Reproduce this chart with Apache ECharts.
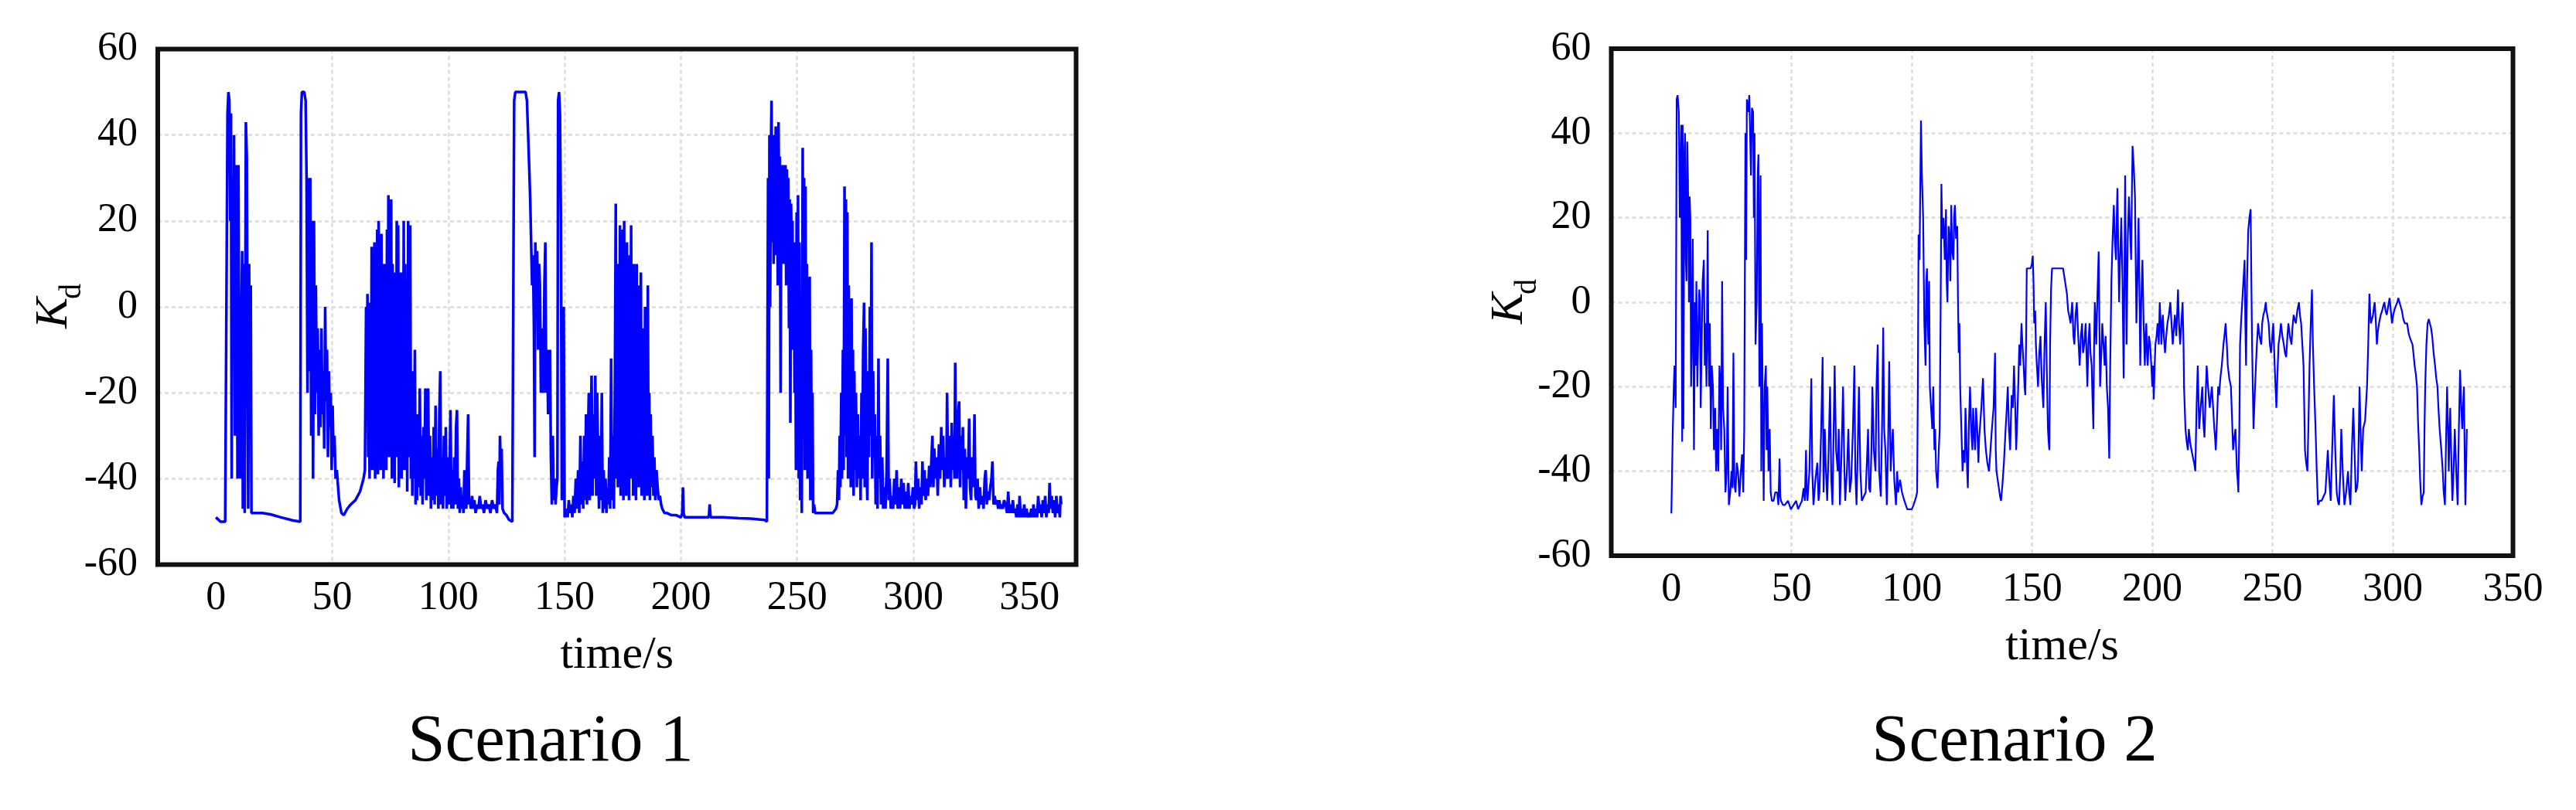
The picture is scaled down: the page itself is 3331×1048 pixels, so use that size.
<!DOCTYPE html>
<html>
<head>
<meta charset="utf-8">
<script src="https://cdn.jsdelivr.net/npm/echarts@6/dist/echarts.min.js"></script>
<style>
html,body{margin:0;padding:0;background:#fff;}
#main{width:3331px;height:1048px;}
</style>
</head>
<body>
<div id="main"></div>
<script>
// ---- tick labels ----
const xTicks1 = [0, 50, 100, 150, 200, 250, 300, 350];
const xTicks2 = [0, 50, 100, 150, 200, 250, 300, 350];
const yMin = -60, yMax = 60, yStep = 20;
const panelTitles = ['Scenario 1', 'Scenario 2'];
const xName = 'time/s';

// ---- Scenario 1: [time s, Kd] ----
const scenario1 = [
[0,-49],[1,-49.5],[2,-50],[4,-50],[4.6,-50],[5,45],[5.4,50],[5.8,48],[6.2,20],[6.5,45],[6.8,-40],[7.1,30],[7.5,-10],[7.8,40],[8.2,-30],[8.6,-20],[9,33],[9.3,-40],[9.7,33],[10.1,-30],[10.5,-40],[10.9,-5],[11.3,13],[11.6,-47],[12,10],[12.4,-48],[12.9,43],[13.3,35],[13.6,-10],[13.9,-47],[14.3,10],[14.6,-30],[15,5],[15.3,-48],[15.7,-48],[16.5,-48],[20,-48],[23.5,-48.3],[28,-49],[33,-49.7],[36.3,-50],
[36.6,45],[37,50],[38,50],[38.6,48],[39,30],[39.4,-20],[39.8,30],[40.2,-15],[40.6,30],[41,-30],[41.4,20],[41.8,-40],[42.2,20],[42.6,-25],[43,5],[43.4,-20],[43.8,-5],[44.2,-30],[44.6,-10],[45,-28],[45.4,-5],[45.8,-25],[46.2,-15],[46.6,-33],[47,0],[47.4,-22],[47.8,-10],[48.2,-35],[48.6,-15],[49,-28],[49.4,-20],[49.8,-38],[50.2,-23],[50.6,-35],[51,-30],[51.5,-40],[52,-38],[53,-45],[54,-48],[55,-48.5],[56.5,-47],[58,-46],[60,-45],[62,-43],[63.5,-40],[64.1,-38],
[64.4,-38],[64.6,0],[64.9,-20],[65.2,3],[65.5,-35],[65.8,-5],[66.1,-40],[66.4,1],[66.7,-30],[67,14],[67.3,-38],[67.6,10],[67.9,-25],[68.2,15],[68.5,-40],[68.8,5],[69.1,-30],[69.4,18],[69.7,-39],[70,20],[70.3,-20],[70.6,12],[70.9,-38],[71.2,17],[71.5,-30],[71.8,5],[72.1,-40],[72.4,10],[72.7,-22],[73,-5],[73.3,-38],[73.6,18],[73.9,-30],[74.2,26],[74.5,-35],[74.8,24],[75.1,-15],[75.4,25],[75.7,-40],[76,10],[76.3,-30],[76.6,-5],[76.9,-41],[77.2,8],[77.5,-35],[77.8,20],[78.1,-25],[78.4,19],[78.7,-42],[79,0],[79.3,-30],[79.6,8],[79.9,-40],[80.2,-10],[80.5,-35],[80.8,20],[81.1,-38],[81.4,10],[81.7,-20],[82,-10],[82.3,-43],[82.7,20],[83,-35],[83.3,-10],[83.6,19],[83.9,-40],[84.2,-20],[84.5,-44],[84.8,-15],[85.1,-40],[85.6,-10],[85.9,-46],[86.2,-30],
[86.5,-45],[86.9,-25],[87.3,-42],[87.7,-19],[88.1,-44],[88.5,-30],[88.9,-46],[89.3,-28],[89.7,-40],[90.1,-19],[90.5,-45],[90.9,-25],[91.3,-19],[91.7,-44],[92.1,-30],[92.5,-47],[92.9,-35],[93.3,-45],[93.7,-28],[94.1,-46],[94.5,-23],[94.9,-44],[95.3,-33],[95.7,-47],[96.1,-25],[96.5,-15],[96.9,-46],[97.3,-35],[97.7,-47],[98.1,-30],[98.5,-44],[98.9,-28],[99.3,-47],[99.7,-35],[100.1,-46],[100.5,-40],[100.9,-24],[101.3,-47],[101.7,-38],[102.1,-47],[102.5,-35],[102.9,-46],[103.3,-28],[103.7,-24],[104.1,-47],[104.5,-40],[104.9,-48],[105.3,-42],[105.7,-47],[106.1,-44],[106.5,-48],[106.9,-38],[107.3,-45],[107.7,-47],[108.1,-35],[108.5,-25],[108.9,-46],[109.3,-45],[109.7,-47],[110.2,-44],[110.7,-47],[111.2,-45],[111.7,-48],[112.3,-46],[112.9,-47],[113.5,-44],[114.1,-47],[114.7,-46],[115.3,-48],[116,-45],[116.7,-47],[117.4,-46],[118.1,-48],[118.8,-45],[119.5,-47],[120.2,-46],[120.9,-48],[121.3,-38],[121.6,-36],[121.9,-46],[122.2,-30],[122.6,-40],[122.9,-33],[123.3,-47],[124,-48],[125,-48.5],[126,-49.5],[127.5,-50],[128,-50],
[128.3,48],[128.8,50],[131,50],[133.2,50],[133.8,48],[134.3,40],[134.8,32],[135.2,25],[135.6,15],[136,5],[136.4,12],[136.8,-5],[137.1,-35],[137.4,15],[137.8,5],[138.2,13],[138.6,-10],[139,10],[139.4,5],[139.8,-20],[140.2,-5],[140.6,-15],[140.9,-20],[141.3,5],[141.7,15],[142.1,-20],[142.5,-10],[142.9,-25],[143.3,-15],[143.7,-10],[144.1,-35],[144.5,-46],[144.9,-30],[145.3,-45],[145.7,-40],[146.1,-46],[146.5,-42],[146.9,-40],[147.2,48],[147.6,50],[148,45],[148.4,20],[148.8,-45],[149.2,-5],[149.6,0],[150,-49],
[150.3,-49],[150.8,-47],[151.3,-49],[151.8,-45],[152.3,-48],[152.8,-46],[153.3,-49],[153.8,-44],[154.3,-48],[154.8,-40],[155.3,-47],[155.8,-38],[156.3,-48],[156.8,-30],[157.2,-46],[157.6,-36],[158,-47],[158.4,-30],[158.8,-45],[159.2,-25],[159.6,-46],[160,-32],[160.4,-20],[160.8,-45],[161.2,-30],[161.6,-16],[162,-44],[162.4,-25],[162.8,-40],[163.2,-16],[163.6,-44],[164,-20],[164.4,-35],[164.8,-47],[165.2,-30],[165.6,-45],[166,-20],[166.4,-48],[166.8,-38],[167.2,-47],[167.6,-40],[168,-48],[168.4,-42],[168.8,-46],[169.2,-35],[169.6,-47],[170,-12],[170.4,-45],[170.8,-30],[171.2,-47],[171.6,-20],[172,24],[172.3,-40],[172.6,0],[172.9,-42],[173.2,10],[173.5,-38],[173.8,19],[174.1,-44],[174.4,5],[174.7,-35],[175,18],[175.3,-45],[175.6,20],[175.9,-30],[176.2,8],[176.5,-44],[176.8,15],[177.1,-38],[177.4,-5],[177.7,-45],[178,12],[178.3,-40],[178.6,19],[178.9,-30],[179.2,5],[179.5,-44],[179.8,10],[180.1,-35],[180.4,-2],[180.7,-45],[181,10],[181.3,-38],[181.6,0],[181.9,-42],[182.2,5],[182.5,-30],[182.8,8],[183.1,-44],[183.4,-5],[183.7,-38],[184,-10],[184.3,-45],[184.6,0],[184.9,-35],[185.2,-15],[185.5,-44],[185.8,5],[186.1,-40],[186.4,-20],[186.7,-45],[187,-25],[187.4,-42],[187.8,-30],[188.2,-44],[188.6,-35],[189,-45],[189.5,-38],[190,-42],[190.5,-45],[191,-44],[191.5,-46],[192,-47],[193,-48],[194,-48],[196,-48.5],[198,-48.5],[200,-49],[200.6,-48],[200.9,-42],[201.2,-48],[201.6,-49],[204,-49],[208,-49],[212,-49],[212.4,-46],[212.8,-49],[218,-49],[225,-49.2],[230,-49.3],[236,-49.6],[237,-50],
[237.3,-50],[237.5,30],[237.8,-40],[238.1,40],[238.4,0],[238.7,35],[239,48],[239.3,15],[239.6,40],[239.9,10],[240.2,35],[240.5,20],[240.8,42],[241.1,12],[241.4,30],[241.7,5],[242,43],[242.3,20],[242.6,35],[242.9,-20],[243.2,30],[243.5,15],[243.8,33],[244.1,10],[244.4,30],[244.7,20],[245,33],[245.3,5],[245.6,32],[245.9,15],[246.2,30],[246.5,-5],[246.8,25],[247.1,-27],[247.4,24],[247.7,10],[248,20],[248.3,-10],[248.6,15],[248.9,-20],[249.2,10],[249.5,-38],[249.8,22],[250.1,-10],[250.4,26],[250.7,-40],[251,15],[251.3,-45],[251.6,-20],[252,-48],[252.4,37],[252.7,-10],[253,30],[253.3,-38],[253.6,28],[253.9,-20],[254.2,10],[254.5,-40],[254.8,5],[255.1,-35],[255.4,7],[255.7,-45],[256,-10],[256.3,-40],[256.6,-20],[256.9,-48],[257.3,-46],[257.7,-48],[258.2,-48],[262,-48],[265.3,-48],[266.7,-47],
[267.2,-46],[267.6,-38],[268,-45],[268.3,-30],[268.6,-42],[269,-20],[269.3,-40],[269.7,-10],[270,-38],[270.4,28],[270.7,-30],[271,25],[271.3,-35],[271.6,22],[271.9,-40],[272.2,5],[272.5,-30],[272.8,-5],[273.1,-42],[273.4,2],[273.7,-35],[274,-10],[274.3,-44],[274.6,-15],[274.9,-38],[275.3,-20],[275.7,-42],[276.1,-25],[276.5,-40],[276.9,-30],[277.3,-45],[277.7,-20],[278,-40],[278.4,-10],[278.8,1],[279.1,-42],[279.4,-5],[279.8,-35],[280.2,-45],[280.6,-15],[280.9,-35],[281.3,0],[281.6,-30],[282,15],[282.3,-40],[282.7,-15],[283,-35],[283.4,-25],[283.8,-46],[284.2,-30],[284.6,-47],[285,-12],[285.3,-40],[285.7,-30],[286.1,-46],[286.6,-35],[287,-47],[287.5,-42],[288,-47],[288.5,-38],[289,-12],[289.4,-45],[289.8,-40],[290.3,-47],[290.8,-44],[291.3,-47],[291.8,-40],[292.3,-46],[292.8,-38],[293.3,-47],[293.8,-42],[294.3,-47],[294.8,-40],[295.3,-46],[295.8,-41],[296.3,-47],[296.8,-43],[297.3,-47],[297.8,-41],[298.3,-47],[298.8,-44],[299.3,-46],[299.8,-42],[300.3,-47],
[300.7,-46],[301.1,-36],[301.5,-45],[302,-40],[302.5,-47],[303,-42],[303.5,-46],[303.9,-36],[304.3,-44],[304.8,-38],[305.3,-45],[305.8,-40],[306.3,-44],[306.8,-37],[307.3,-42],[307.8,-35],[308.2,-30],[308.6,-42],[309,-33],[309.5,-40],[310,-35],[310.5,-44],[311,-32],[311.5,-40],[312,-28],[312.4,-38],[312.8,-30],[313.3,-42],[313.8,-35],[314.2,-40],[314.5,-20],[314.9,-38],[315.3,-40],[315.7,-30],[316.1,-42],[316.5,-27],[316.9,-38],[317.3,-30],[317.7,-40],[318,-13],[318.4,-38],[318.8,-40],[319.2,-25],[319.7,-22],[320.1,-42],[320.5,-30],[320.9,-38],[321.3,-28],[321.7,-45],[322.1,-33],[322.6,-47],[323,-35],[323.5,-40],[324,-26],[324.4,-42],[324.8,-45],[325.3,-35],[325.8,-42],[326.3,-25],[326.7,-44],[327.1,-45],[327.6,-40],[328.1,-47],[328.6,-42],[329.1,-46],[329.7,-44],[330.2,-47],[330.7,-40],[331.1,-38],[331.6,-46],[332.1,-43],[332.6,-45],[333.1,-42],[333.6,-40],[334,-36],[334.5,-46],[335,-44],[335.4,-46],[336,-45],[336.5,-47],[337,-45],[337.5,-47],[338,-46],[338.5,-47],[339,-45],[339.7,-46],[340.3,-48],[340.8,-43],[341.3,-48],[341.8,-46],[342.3,-48],[342.8,-45],[343.3,-48],[343.8,-47],[344.3,-49],[344.8,-46],[345.3,-49],[345.7,-44],[346.2,-49],[346.7,-47],[347.2,-49],[347.7,-46],[348.2,-49],[348.7,-47],[349.2,-49],[349.7,-48],[350.2,-49],[350.7,-47],[351.2,-49],[351.7,-46],[352.2,-49],[352.7,-47],[353.2,-49],[353.7,-44],[354.2,-48],[354.7,-46],[355.2,-49],[355.7,-45],[356.2,-48],[356.7,-44],[357.2,-49],[357.7,-46],[358.2,-48],[358.6,-41],[359,-47],[359.5,-44],[360,-48],[360.5,-45],[361,-49],[361.5,-44],[362,-48],[362.5,-46],[363,-49],[363.3,-44],[363.6,-46]
];

// ---- Scenario 2: [time s, Kd] ----
const scenario2 = [
[0,-50],[0.6,-30],[1.0,-20],[1.3,-15],[1.8,-25],[2.2,48],[2.6,49],[3.1,45],[3.5,20],[4.1,42],[4.5,-33],[4.7,42],[5.0,-30],[5.4,35],[5.7,40],[6.0,10],[6.3,5],[6.6,38],[6.9,29],[7.3,0],[7.6,25],[7.9,20],[8.2,-20],[8.5,-10],[8.9,15],[9.4,-35],[9.8,0],[10.1,-15],[10.4,5],[10.8,-20],[11.3,-5],[11.6,3],[11.9,0],[12.2,-25],[12.6,-10],[13.0,5],[13.5,10],[13.9,-15],[14.2,-5],[14.6,-20],[15.1,17],[15.4,-10],[15.7,-20],[16.0,-5],[16.4,-30],[16.8,-15],[17.3,-20],[17.7,-35],[18.2,-25],[18.6,-40],[19.0,-30],[19.5,-40],[20.0,-15],[20.4,-20],[20.7,-35],[21.1,5],[21.5,-25],[22.0,-30],[22.5,-45],[23.0,-40],[23.4,-20],[23.9,-48],[24.5,-45],[25.0,-40],[25.4,-44],[25.8,-12],[26.2,-43],[26.7,-45],[27.2,-38],[27.7,-40],[28.3,-46],[28.9,-40],[29.4,-36],[29.9,-45],[30.3,-30],[30.8,40],[31.1,10],[31.4,48],[32.0,45],[32.4,49],[32.7,49],[33.1,30],[33.5,46],[34.0,45],[34.3,20],[34.6,40],[35.0,-10],[35.5,0],[35.9,30],[36.2,35],[36.6,-20],[37.1,30],[37.4,-40],[37.7,-5],[38.1,-30],[38.4,-47],[38.8,-20],[39.3,-15],[39.6,-35],[39.9,-20],[40.4,-40],[40.9,-30],[41.3,-45],[41.8,-47],[42.5,-47],[43.2,-45],[44.0,-45],[44.5,-48],[45.0,-37],[45.3,-46],[45.6,-47],[46.4,-48],[47.2,-48],[48.5,-47],[49.7,-49],[50.8,-48],[51.9,-47],[52.7,-49],[53.5,-48],[54.3,-47],[55.0,-44],[55.5,-47],[56.0,-35],[56.3,-45],[56.6,-47],[57.4,-40],[58.2,-18],[58.6,-40],[59.1,-48],[59.9,-42],[60.7,-38],[61.2,-47],[61.6,-45],[62.3,-30],[62.9,-13],[63.3,-45],[63.8,-30],[64.3,-40],[64.8,-47],[65.4,-35],[66.0,-20],[66.5,-42],[67.0,-48],[67.5,-30],[67.9,-15],[68.5,-35],[69.2,-40],[69.6,-30],[70.1,-48],[70.8,-35],[71.4,-20],[71.9,-38],[72.3,-47],[73.0,-40],[73.6,-30],[74.2,-45],[74.8,-42],[75.5,-30],[76.1,-15],[76.5,-40],[77.0,-48],[77.5,-35],[78.0,-20],[78.6,-40],[79.2,-47],[80.0,-46],[80.8,-45],[81.3,-38],[81.8,-30],[82.2,-44],[82.7,-45],[83.2,-35],[83.6,-20],[84.2,-35],[84.9,-40],[85.3,-20],[85.8,-10],[86.4,-40],[87.1,-46],[87.6,-30],[88.1,-6],[88.5,-30],[89.0,-35],[89.6,-48],[90.1,-35],[90.6,-14],[91.2,-40],[91.6,-35],[92.1,-30],[92.7,-42],[93.4,-48],[93.9,-40],[94.3,-45],[95.1,-42],[95.9,-45],[96.4,-46],[96.9,-47],[97.5,-48],[98.1,-49],[99.0,-49],[100.0,-49],[100.7,-48],[101.3,-47],[101.8,-46],[102.2,-45],[102.5,-20],[102.8,16],[103.2,10],[103.8,43],[104.2,30],[104.7,20],[105.2,-5],[105.7,-15],[106.0,5],[106.3,8],[106.6,-5],[106.9,-10],[107.2,5],[107.5,-20],[108.0,-25],[108.5,-30],[108.9,-20],[109.4,-35],[109.7,-30],[110.1,-40],[110.7,-44],[111.2,-35],[111.6,-30],[112.0,0],[112.3,28],[112.7,15],[113.2,20],[113.7,10],[114.2,22],[114.5,5],[114.8,0],[115.3,18],[115.7,15],[116.0,5],[116.4,23],[116.8,12],[117.3,10],[117.6,20],[117.9,23],[118.4,15],[118.9,18],[119.2,0],[119.5,-12],[119.8,-5],[120.1,-20],[120.6,-30],[121.1,-40],[121.5,-35],[122.0,-38],[122.3,-25],[122.6,-30],[123.0,-40],[123.3,-44],[123.7,-30],[124.2,-20],[124.7,-30],[125.2,-35],[125.5,-25],[125.8,-30],[126.3,-35],[126.7,-25],[127.2,-30],[127.7,-38],[128.0,-32],[128.3,-30],[128.9,-25],[129.6,-18],[130.2,-30],[130.8,-35],[131.4,-38],[132.1,-40],[132.7,-35],[133.3,-30],[134.0,-25],[134.6,-12],[134.9,-35],[135.2,-40],[135.7,-42],[136.2,-44],[136.7,-46],[137.1,-47],[137.4,-45],[137.7,-43],[138.3,-38],[139.0,-30],[139.5,-25],[139.9,-20],[140.4,-30],[140.9,-35],[141.2,-28],[141.5,-22],[142.0,-25],[142.5,-15],[143.0,-25],[143.4,-35],[144.0,-25],[144.7,-10],[145.1,-15],[145.6,-5],[146.0,-10],[146.5,-15],[146.9,-20],[147.2,-22],[147.5,-10],[147.8,8],[148.2,8],[148.7,8],[149.0,8],[149.4,8],[149.9,9],[150.3,11],[150.6,5],[150.9,-5],[151.3,-2],[151.6,-10],[152.0,-15],[152.5,-20],[153.0,-12],[153.5,-8],[154.0,-18],[154.7,-25],[155.2,-10],[155.7,0],[156.1,-15],[156.6,-30],[156.9,-33],[157.2,-35],[157.5,-10],[157.9,3],[158.3,8],[158.8,8],[160.4,8],[162.0,8],[162.9,8],[163.7,5],[164.5,2],[165.0,-2],[165.4,-3],[166.0,-5],[166.7,0],[167.2,-8],[167.6,-10],[168.1,-3],[168.6,0],[169.2,-8],[169.8,-15],[170.3,-8],[170.8,-5],[171.2,-12],[171.7,-10],[172.3,-5],[173.0,-20],[173.4,-10],[173.9,-5],[174.3,-12],[174.8,-15],[175.1,-22],[175.5,-30],[175.8,-10],[176.1,0],[176.4,-5],[176.7,-10],[177.2,2],[177.7,12],[178.0,-5],[178.3,-20],[178.8,-12],[179.2,-5],[179.7,-10],[180.2,-15],[180.6,-8],[181.1,-20],[181.6,-25],[182.1,-37],[182.5,-15],[183.0,5],[183.5,15],[184.0,23],[184.4,15],[184.9,10],[185.2,20],[185.5,27],[185.8,15],[186.2,0],[186.6,10],[187.1,20],[187.6,5],[188.1,-18],[188.4,5],[188.7,30],[189.0,10],[189.3,-10],[189.8,15],[190.3,25],[190.7,18],[191.2,10],[191.5,25],[191.8,37],[192.3,32],[192.8,25],[193.1,10],[193.4,-5],[193.8,5],[194.3,20],[194.6,5],[195.0,-15],[195.4,0],[195.9,10],[196.4,-5],[196.9,-15],[197.2,-8],[197.5,-5],[197.8,-12],[198.1,-15],[198.6,-8],[199.1,-10],[199.6,-15],[200.0,-20],[200.3,-15],[200.6,-23],[201.0,-15],[201.3,-10],[201.8,-8],[202.2,-5],[202.7,-10],[203.1,0],[203.5,-5],[203.8,-10],[204.1,-5],[204.4,-3],[204.8,-8],[205.3,-12],[205.8,-8],[206.3,-5],[206.9,-3],[207.5,0],[208.0,-5],[208.5,-10],[209.0,-6],[209.4,-3],[210.0,-8],[210.7,3],[211.1,-5],[211.6,-10],[212.1,-5],[212.6,0],[213.0,-10],[213.2,-20],[213.5,-25],[213.8,-30],[214.3,-33],[214.8,-35],[215.2,-30],[215.7,-33],[216.3,-35],[217.0,-37],[217.4,-38],[217.9,-40],[218.4,-25],[218.9,-15],[219.2,-22],[219.5,-30],[220.1,-25],[220.8,-20],[221.2,-28],[221.7,-32],[222.2,-22],[222.6,-15],[223.2,-20],[223.9,-25],[224.4,-22],[224.8,-20],[225.3,-25],[225.8,-30],[226.1,-32],[226.4,-35],[226.9,-28],[227.4,-20],[227.8,-22],[228.3,-18],[228.9,-15],[229.6,-10],[230.0,-8],[230.5,-5],[231.0,-10],[231.4,-15],[232.0,-18],[232.7,-20],[233.2,-28],[233.6,-35],[234.1,-32],[234.6,-30],[234.9,-35],[235.2,-40],[235.5,-42],[235.8,-45],[236.2,-30],[236.5,-10],[236.9,-5],[237.4,0],[237.9,5],[238.4,10],[238.7,-5],[239.0,-15],[239.4,5],[239.9,17],[240.4,20],[240.9,22],[241.2,5],[241.5,-10],[241.8,-20],[242.1,-30],[242.6,-22],[243.1,-15],[243.5,-10],[244.0,-5],[244.6,-8],[245.3,-10],[245.7,-5],[246.2,-3],[246.7,-2],[247.2,0],[247.5,-2],[247.8,-3],[248.1,-4],[248.4,-5],[248.9,-10],[249.4,-12],[249.9,-8],[250.3,-5],[250.9,-15],[251.6,-25],[252.0,-18],[252.5,-10],[253.0,-8],[253.5,-5],[254.1,-8],[254.7,-10],[255.2,-12],[255.7,-13],[256.2,-8],[256.6,-5],[257.2,-8],[257.9,-10],[258.3,-6],[258.8,-3],[259.2,-4],[259.7,-5],[260.3,-2],[261.0,0],[261.4,-3],[261.9,-5],[262.4,-10],[262.9,-15],[263.2,-25],[263.5,-35],[264.0,-38],[264.5,-40],[264.9,-30],[265.4,-15],[265.9,-5],[266.4,3],[266.8,-10],[267.3,-20],[267.6,-25],[267.9,-30],[268.4,-40],[268.9,-48],[269.6,-47],[270.4,-47],[271.2,-46],[272.0,-45],[272.5,-40],[273.0,-35],[273.6,-42],[274.2,-47],[274.8,-35],[275.5,-22],[276.1,-35],[276.7,-45],[277.2,-47],[277.7,-48],[278.2,-40],[278.6,-30],[279.2,-40],[279.9,-48],[280.6,-45],[281.4,-40],[281.9,-45],[282.4,-48],[283.0,-35],[283.6,-25],[284.1,-35],[284.6,-45],[285.1,-44],[285.5,-42],[285.9,-30],[286.2,-20],[286.6,-30],[287.1,-40],[287.4,-35],[287.7,-30],[288.5,-28],[289.3,-20],[289.8,-10],[290.3,2],[290.6,-2],[290.9,-5],[291.4,-4],[291.8,-3],[292.2,-1],[292.5,0],[293.0,-5],[293.4,-10],[293.8,-7],[294.3,-5],[295.0,-3],[295.6,-2],[296.0,-1],[296.5,0],[297.0,-2],[297.5,-3],[298.1,-1],[298.7,1],[299.2,-2],[299.7,-5],[300.2,-3],[300.6,-2],[301.2,-1],[301.9,0],[302.3,1],[302.8,0],[303.3,-1],[303.8,-2],[304.4,-4],[305.0,-5],[305.5,-5],[306.0,-5],[306.5,-7],[306.9,-8],[307.5,-9],[308.2,-10],[308.6,-12],[309.1,-15],[309.6,-17],[310.1,-20],[310.5,-28],[311.0,-35],[311.4,-42],[311.9,-48],[312.4,-46],[312.9,-45],[313.2,-30],[313.5,-20],[314.0,-10],[314.5,-5],[315.0,-4],[315.4,-5],[315.9,-6],[316.4,-8],[317.0,-12],[317.6,-15],[318.1,-18],[318.6,-20],[319.0,-25],[319.5,-30],[320.2,-35],[320.8,-40],[321.2,-45],[321.7,-48],[322.1,-35],[322.6,-20],[323.0,-30],[323.3,-40],[323.6,-32],[323.9,-25],[324.4,-38],[324.8,-47],[325.3,-40],[325.8,-30],[326.4,-40],[327.0,-48],[327.5,-30],[328.0,-16],[328.5,-25],[328.9,-30],[329.3,-24],[329.6,-20],[329.9,-35],[330.2,-48],[330.5,-40],[330.8,-30]
];

const FONT = '"Liberation Serif", "Times New Roman", Times, serif';
const gridLine = { show: true, showMinLine: false, showMaxLine: false,
  lineStyle: { color: '#dcdcdc', width: 2.5, type: [5, 4] } };

// plot frames (pixel boxes of the two panels)
const frames = [
  { left: 204, top: 63.5, width: 1187.5, height: 667 },
  { left: 2083.5, top: 63, width: 1166, height: 656 }
];

function xAxisCfg(gi, min, max, ticks) {
  return {
    gridIndex: gi, type: 'value', min: min, max: max,
    axisLine: { show: false },
    axisTick: { show: false, customValues: ticks },
    axisLabel: { customValues: ticks, fontFamily: FONT, fontSize: 52, color: '#000', margin: 18 },
    splitLine: gridLine,
    name: xName, nameLocation: 'middle', nameGap: 88,
    nameTextStyle: { fontFamily: FONT, fontSize: 60, color: '#000' }
  };
}
function yAxisCfg(gi) {
  return {
    gridIndex: gi, type: 'value', min: yMin, max: yMax, interval: yStep,
    axisLine: { show: false }, axisTick: { show: false },
    axisLabel: { fontFamily: FONT, fontSize: 52, color: '#000', margin: 26 },
    splitLine: gridLine
  };
}
function kdLabel(xK, yK, xd, yd) {
  return [
    { type: 'text', x: xK, y: yK, rotation: Math.PI / 2,
      style: { text: 'K', font: 'italic 60px ' + FONT, fill: '#000', textAlign: 'center', textVerticalAlign: 'middle' } },
    { type: 'text', x: xd, y: yd, rotation: Math.PI / 2,
      style: { text: 'd', font: '40px ' + FONT, fill: '#000', textAlign: 'center', textVerticalAlign: 'middle' } }
  ];
}
function frameRect(f) {
  return { type: 'rect', z: 100, silent: true,
    shape: { x: f.left, y: f.top, width: f.width, height: f.height },
    style: { fill: null, stroke: '#111111', lineWidth: 6 } };
}

const chart = echarts.init(document.getElementById('main'), null, { renderer: 'canvas' });
chart.setOption({
  animation: false,
  backgroundColor: '#ffffff',
  grid: frames.map(f => ({ left: f.left, top: f.top, width: f.width, height: f.height, show: false,
      containLabel: false, outerBoundsMode: 'none' })),
  xAxis: [ xAxisCfg(0, -25, 370, xTicks1), xAxisCfg(1, -25, 350, xTicks2) ],
  yAxis: [ yAxisCfg(0), yAxisCfg(1) ],
  series: [
    { type: 'line', xAxisIndex: 0, yAxisIndex: 0, data: scenario1, showSymbol: false, symbol: 'none',
      lineStyle: { color: '#0000ff', width: 3.5 }, itemStyle: { color: '#0000ff' } },
    { type: 'line', xAxisIndex: 1, yAxisIndex: 1, data: scenario2, showSymbol: false, symbol: 'none',
      lineStyle: { color: '#0000ff', width: 2.2 }, itemStyle: { color: '#0000ff' } }
  ],
  graphic: [].concat(
    frames.map(frameRect),
    kdLabel(70, 405, 93, 377),
    kdLabel(1952, 399, 1975, 371),
    [
      { type: 'text', x: 712, y: 961, style: { text: panelTitles[0], font: '87px ' + FONT, fill: '#000', textAlign: 'center', textVerticalAlign: 'middle' } },
      { type: 'text', x: 2605, y: 961, style: { text: panelTitles[1], font: '87px ' + FONT, fill: '#000', textAlign: 'center', textVerticalAlign: 'middle' } }
    ]
  )
});
</script>
</body>
</html>
